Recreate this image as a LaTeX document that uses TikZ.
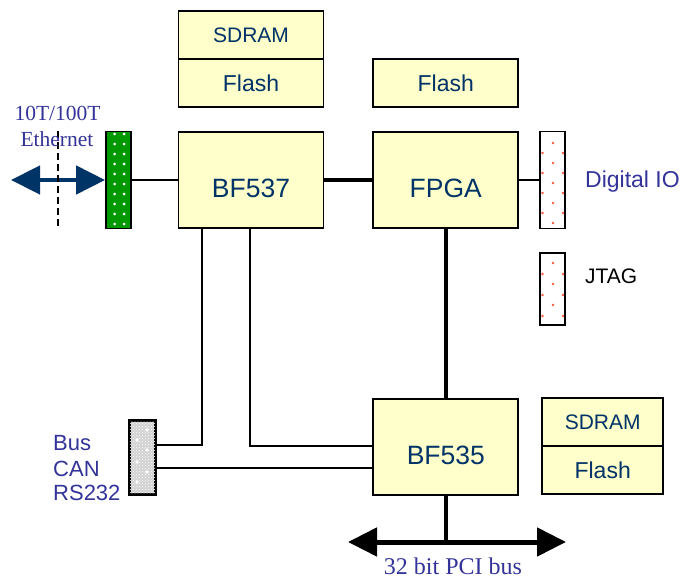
\documentclass[tikz,border=0pt]{standalone}
\usepackage{fontspec}
\setmainfont{Liberation Serif}
\setsansfont{Liberation Sans}
\usetikzlibrary{positioning,arrows.meta,patterns}
\definecolor{chipfill}{RGB}{255,255,204}
\definecolor{chiptext}{RGB}{0,51,102}
\definecolor{labelblue}{RGB}{51,51,153}
\definecolor{ethgreen}{RGB}{0,153,0}
\definecolor{portred}{RGB}{255,90,60}
\tikzset{chip node/.style={draw,fill=chipfill,line width=1.8pt,minimum width=145pt,minimum height=96pt,inner sep=0pt,
             text=chiptext,font=\sffamily\fontsize{26.5}{28}\selectfont,text height=35pt,text depth=0pt},
         mem node/.style={draw,fill=chipfill,line width=1.8pt,minimum width=145pt,minimum height=48pt,inner sep=0pt,
             outer sep=0pt,text=chiptext},
         port node/.style={draw,line width=1.8pt,minimum width=25pt,minimum height=97pt,inner sep=0pt},
         side label/.style={text=labelblue,inner sep=0pt,font=\sffamily\fontsize{22}{24}\selectfont},
         serif label/.style={text=labelblue,inner sep=0pt,font=\fontsize{21.5}{23}\selectfont},
         thin link/.style={line width=1.8pt},
         thick link/.style={line width=3.4pt},
            }

\begin{document}
\begin{tikzpicture}[x=1pt,y=-1pt]
    \useasboundingbox (0,0) rectangle (697,578);
    % processors and memories
    \node[chip node] (bf537) at (251,180) {BF537};
    \node[chip node] (fpga) [right = 48pt of bf537] {FPGA};
    \node[chip node] (bf535) [below = 169pt of fpga] {BF535};
    \node[mem node,font=\sffamily\fontsize{23}{24}\selectfont] (flash1) [above = 24pt of fpga] {Flash};
    \node[mem node,font=\sffamily\fontsize{23}{24}\selectfont] (flash2) [above = 24pt of bf537] {Flash};
    \node[mem node,font=\sffamily\fontsize{21}{22}\selectfont] (sdram2) [above = 0pt of flash2] {SDRAM};
    \node[mem node,minimum width=121pt,anchor=north west,font=\sffamily\fontsize{21}{22}\selectfont] (sdram3)
        at ([xshift=23pt]bf535.north east) {SDRAM};
    \node[mem node,minimum width=121pt,font=\sffamily\fontsize{23}{24}\selectfont] (flash3) [below = 0pt of sdram3] {Flash};

    % connectors
    \node[port node,fill=ethgreen] (eth) at (118.5,180) {};
    \node[port node,fill=white] (dio) at (552.5,180) {};
    \node[port node,fill=white,minimum height=72pt] (jtag) at (552.5,289) {};
    \node[port node,fill=gray!35,minimum height=73pt] (can) at (142.5,457.5) {};
    \fill[pattern=crosshatch dots,pattern color=white] (can.north west) rectangle (can.south east);
    \draw[line width=1.8pt] (can.north west) rectangle (can.south east);
    \foreach \y in {134,144,...,224}
        \fill[white] (114.5,\y) circle (1.5) (124,\y) circle (1.5);
    \foreach \y in {143,163,...,223}
        \fill[portred] (553,\y) circle (1.4);
    \foreach \y in {153,173,...,213}
        \fill[portred] (542.5,\y) circle (1.4) (563,\y) circle (1.4);
    \foreach \y in {263,284,305}
        \fill[portred] (553,\y) circle (1.4);
    \foreach \y in {274,295,316}
        \fill[portred] (542.5,\y) circle (1.4) (563,\y) circle (1.4);
    \foreach \x/\y in {147/430,137/440,147/450,137/462,147/472,137/482}
        \fill[white] (\x,\y) circle (1.8);

    % links
    \draw[thin link] (eth.east) -- (bf537.west);
    \draw[thick link] (bf537.east) -- (fpga.west);
    \draw[thin link] (fpga.east) -- (dio.west);
    \draw[thick link] (fpga.south) -- (bf535.north);
    \draw[thin link] ([xshift=24pt]bf537.south west) |- ([yshift=-25pt]can.north east);
    \draw[thin link] ([xshift=72pt]bf537.south west) |- ([yshift=-48pt]bf535.north west);
    \coordinate (canrx) at ([yshift=-48pt]can.north east);
    \draw[thin link] (canrx) -- (canrx -| bf535.west);

    % ethernet
    \coordinate (ethend) at (11,180);
    \draw[line width=4.5pt,draw=chiptext,{Triangle[length=29pt,width=28pt]}-{Triangle[length=29pt,width=28pt]}]
        (ethend) -- (eth.west);
    \coordinate (cuttop) at (58,131);
    \coordinate (cutbot) at (58,229);
    \draw[line width=1.6pt,dash pattern=on 7pt off 4pt] (cuttop) -- (cutbot);
    \node[serif label,anchor=base] (ethspeed) at (57.5,121) {10T/100T};
    \node[serif label,anchor=base] (ethname) at (57,146.7) {Ethernet};

    % pci bus
    \coordinate (pcileft) at (348,542);
    \coordinate (pciright) at (566,542);
    \draw[line width=5pt,{Triangle[length=29pt,width=28pt]}-{Triangle[length=29pt,width=28pt]}]
        (pcileft) -- (pciright);
    \draw[line width=4pt] (bf535.south) -- (bf535.south |- pcileft);
    \node[serif label,anchor=base,font=\fontsize{24}{26}\selectfont] (pcilabel) at (453,574) {32 bit PCI bus};

    % labels
    \node[side label,anchor=base west,font=\sffamily\fontsize{23}{24}\selectfont] (diolabel) at (585,187.3) {Digital IO};
    \node[side label,anchor=base west,text=black,font=\sffamily\fontsize{21}{22}\selectfont] (jtaglabel) at (585,283.3) {JTAG};
    \node[side label,anchor=base west] (buslabel) at (53,450.7) {Bus};
    \node[side label,anchor=base west] (canlabel) at (53,476) {CAN};
    \node[side label,anchor=base west] (rslabel) at (53,500) {RS232};
\end{tikzpicture}
\end{document}
